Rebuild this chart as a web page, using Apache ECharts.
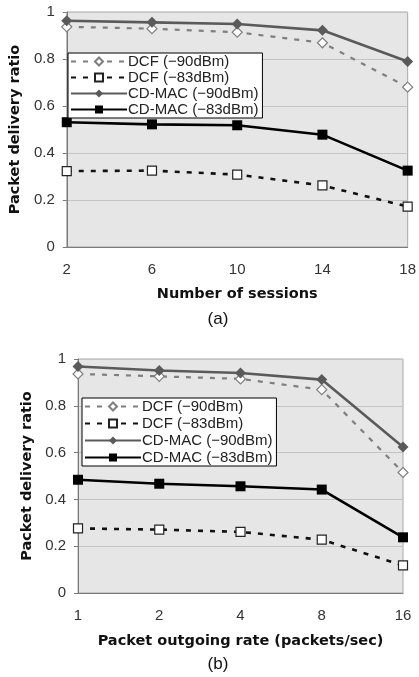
<!DOCTYPE html>
<html>
<head>
<meta charset="utf-8">
<script src="https://cdn.jsdelivr.net/npm/echarts@6/dist/echarts.min.js"></script>
<style>
  html, body { margin: 0; padding: 0; background: #fff; }
  #chart { width: 419px; height: 677px; }
</style>
</head>
<body>
<div id="chart"></div>
<script>
// (a) number of sessions
var sessions = ['2', '6', '10', '14', '18'];
var dcf90A = [0.937, 0.929, 0.914, 0.869, 0.680];
var dcf83A = [0.323, 0.325, 0.308, 0.262, 0.172];
var cd90A = [0.963, 0.956, 0.949, 0.922, 0.789];
var cd83A = [0.531, 0.522, 0.518, 0.478, 0.325];

// (b) packet outgoing rate
var rates = ['1', '2', '4', '8', '16'];
var dcf90B = [0.936, 0.926, 0.915, 0.869, 0.515];
var dcf83B = [0.276, 0.271, 0.261, 0.228, 0.118];
var cd90B = [0.968, 0.951, 0.940, 0.912, 0.624];
var cd83B = [0.484, 0.467, 0.456, 0.442, 0.238];

var names = ['DCF (\u221290dBm)', 'DCF (\u221283dBm)', 'CD-MAC (\u221290dBm)', 'CD-MAC (\u221283dBm)'];

var font = 'Liberation Sans, Arial, sans-serif';
var boldFont = 'DejaVu Sans, sans-serif';

function xAxisOf(idx, data, name, gap) {
  return {
    gridIndex: idx,
    type: 'category',
    data: data,
    boundaryGap: false,
    name: name,
    nameLocation: 'middle',
    nameGap: gap,
    nameTextStyle: { fontSize: 14.5, fontWeight: 'bold', color: '#111', fontFamily: boldFont },
    axisLine: { lineStyle: { color: '#7a7a7a', width: 1 } },
    axisTick: { show: false },
    axisLabel: { fontSize: 15, color: '#333', margin: 15, fontFamily: font },
    splitLine: { show: false }
  };
}

function yAxisOf(idx, gap) {
  return {
    gridIndex: idx,
    type: 'value',
    min: 0,
    max: 1,
    interval: 0.2,
    name: 'Packet delivery ratio',
    nameLocation: 'middle',
    nameGap: gap,
    nameTextStyle: { fontSize: 14.5, fontWeight: 'bold', color: '#111', fontFamily: boldFont },
    axisLine: { show: true, lineStyle: { color: '#7a7a7a', width: 1 } },
    axisTick: { show: true, length: 4, lineStyle: { color: '#7a7a7a' } },
    axisLabel: { fontSize: 15, color: '#333', margin: 12, fontFamily: font },
    splitLine: { show: true, lineStyle: { color: '#c4c4c4', width: 1 } }
  };
}

function seriesOf(idx, vals) {
  return [
    {
      name: names[0], type: 'line', xAxisIndex: idx, yAxisIndex: idx, data: vals[0],
      symbol: 'diamond', symbolSize: 10,
      lineStyle: { color: '#7f7f7f', width: 2.2, type: [5, 7] },
      itemStyle: { color: '#ffffff', borderColor: '#7f7f7f', borderWidth: 1.2 }
    },
    {
      name: names[1], type: 'line', xAxisIndex: idx, yAxisIndex: idx, data: vals[1],
      symbol: 'rect', symbolSize: 9,
      lineStyle: { color: '#111111', width: 2.6, type: [5, 7] },
      itemStyle: { color: '#ffffff', borderColor: '#222222', borderWidth: 1.2 }
    },
    {
      name: names[2], type: 'line', xAxisIndex: idx, yAxisIndex: idx, data: vals[2],
      symbol: 'diamond', symbolSize: 11,
      lineStyle: { color: '#5a5a5a', width: 2.6 },
      itemStyle: { color: '#5a5a5a' }
    },
    {
      name: names[3], type: 'line', xAxisIndex: idx, yAxisIndex: idx, data: vals[3],
      symbol: 'rect', symbolSize: 10,
      lineStyle: { color: '#000000', width: 2.6 },
      itemStyle: { color: '#000000' }
    }
  ];
}

function legendOf(left, top, gap) {
  return {
    data: names,
    orient: 'vertical',
    left: left,
    top: top,
    itemWidth: 56,
    itemHeight: 10,
    itemGap: gap,
    padding: [1, 4, 1, 2],
    backgroundColor: '#ffffff',
    borderColor: '#000000',
    borderWidth: 1,
    borderRadius: 0,
    selectedMode: false,
    textStyle: { fontSize: 15, color: '#222', padding: [0, 0, 0, -4], fontFamily: font }
  };
}

var chart = echarts.init(document.getElementById('chart'));
var option = {
  animation: false,
  backgroundColor: '#ffffff',
  title: [
    { text: '(a)', left: 213, top: 306, textAlign: 'center',
      textStyle: { fontSize: 17, fontWeight: 'normal', color: '#111', fontFamily: font } },
    { text: '(b)', left: 213, top: 651, textAlign: 'center',
      textStyle: { fontSize: 17, fontWeight: 'normal', color: '#111', fontFamily: font } }
  ],
  grid: [
    { left: 65, top: 12, width: 348, height: 235, show: true,
      backgroundColor: '#e6e6e6', borderColor: '#a8a8a8', borderWidth: 1 },
    { left: 78, top: 359, width: 325, height: 234, show: true,
      backgroundColor: '#e6e6e6', borderColor: '#a8a8a8', borderWidth: 1 }
  ],
  legend: [legendOf(68, 53, 1), legendOf(82, 398, 2)],
  xAxis: [
    xAxisOf(0, sessions, 'Number of sessions', 40),
    xAxisOf(1, rates, 'Packet outgoing rate (packets/sec)', 41)
  ],
  yAxis: [yAxisOf(0, 42), yAxisOf(1, 37)],
  series: seriesOf(0, [dcf90A, dcf83A, cd90A, cd83A]).concat(
          seriesOf(1, [dcf90B, dcf83B, cd90B, cd83B]))
};
chart.setOption(option);
</script>
</body>
</html>
